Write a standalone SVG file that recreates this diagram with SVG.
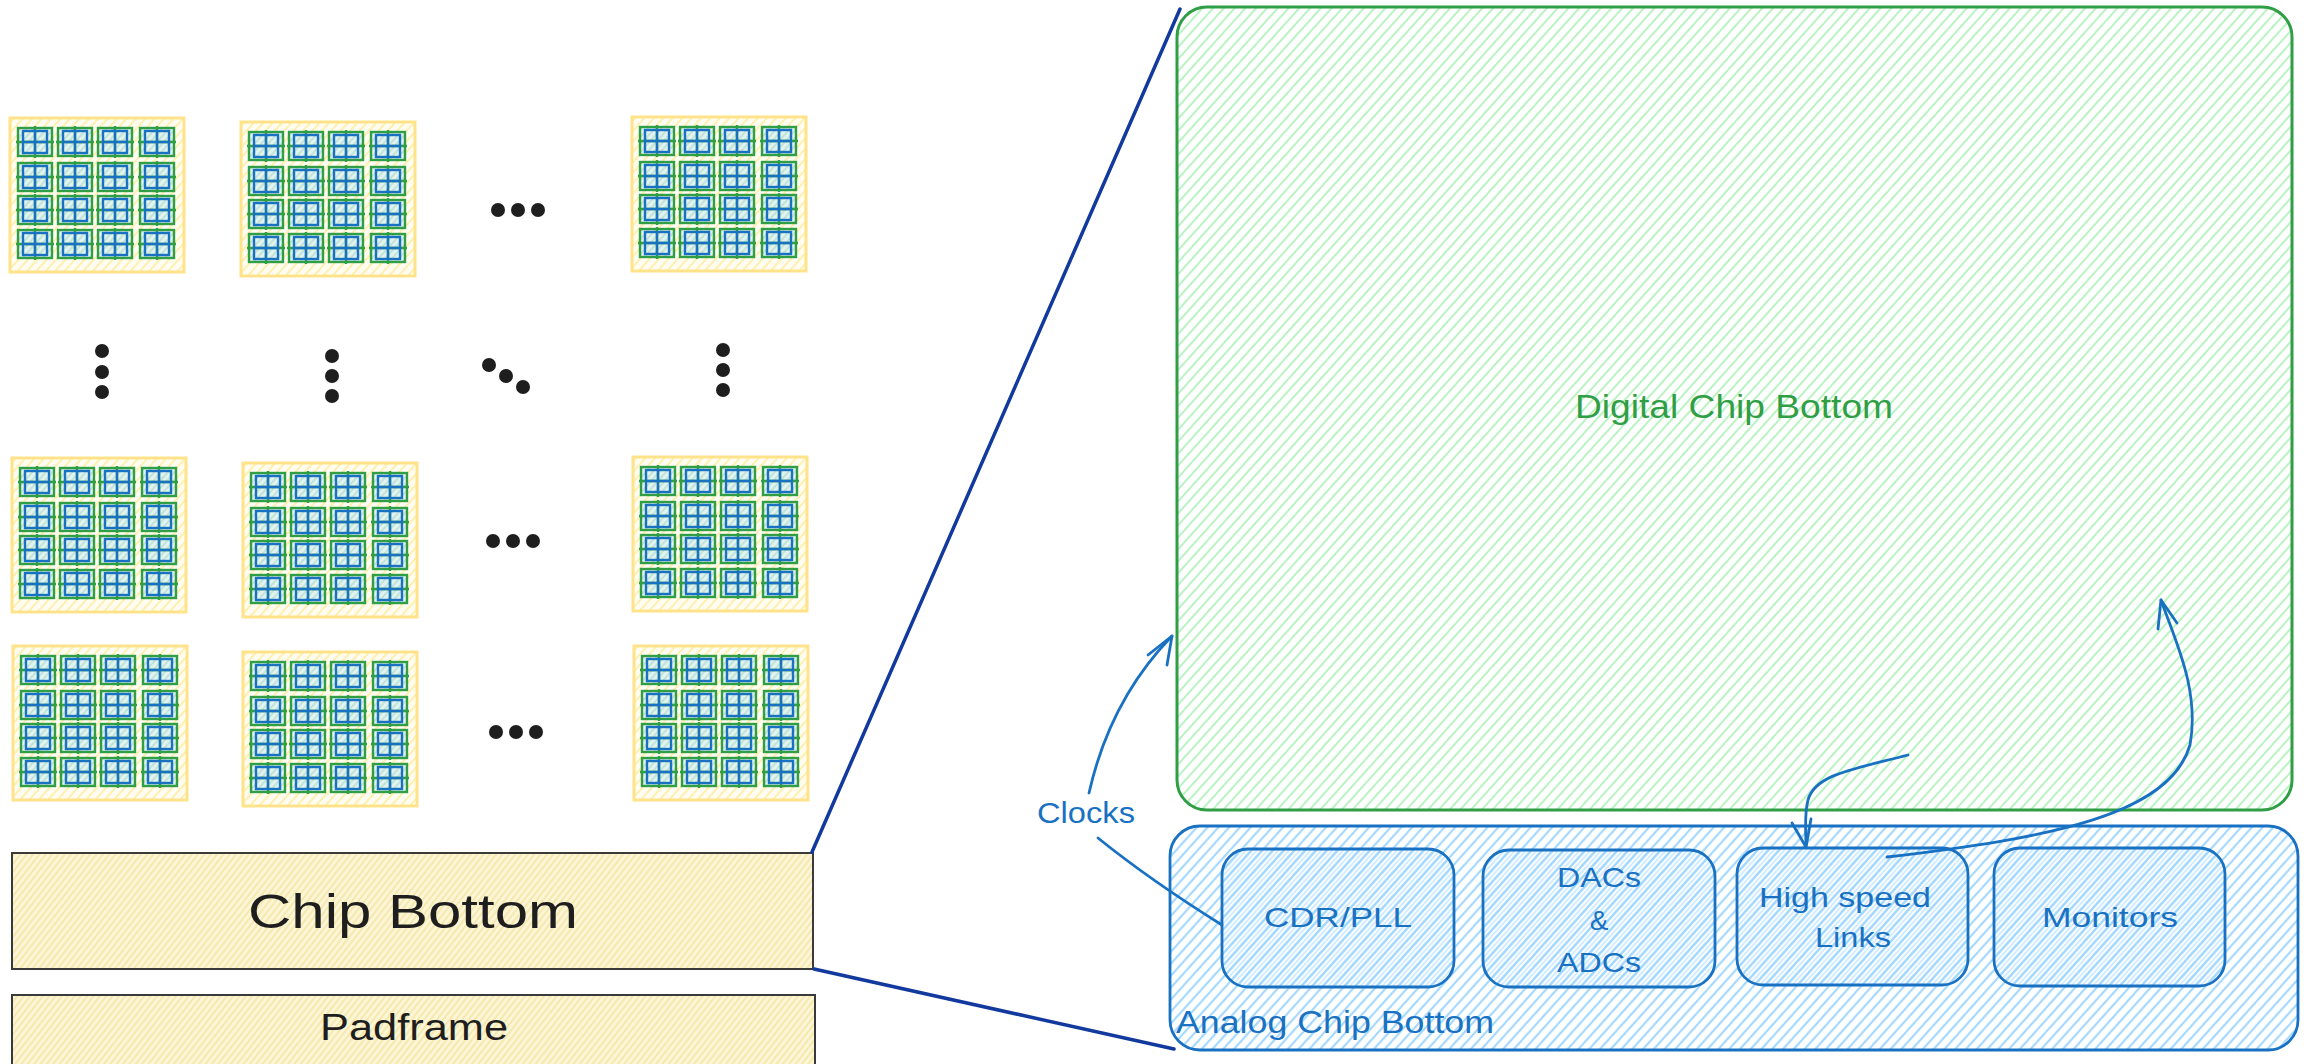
<svg xmlns="http://www.w3.org/2000/svg" width="2312" height="1064" viewBox="0 0 2312 1064">
  <style>
    .hand { font-family: "Liberation Sans", "DejaVu Sans", sans-serif; }
    .ink { fill: #1e1e1e; }
    .blueText { fill: #1971c2; }
    .greenText { fill: #2f9e44; }
    .dot { fill: #1e1e1e; }
    .link { fill: none; stroke: #12399e; stroke-width: 3.5; stroke-linecap: round; }
    .arrow { fill: none; stroke: #1971c2; stroke-width: 2.8; stroke-linecap: round; stroke-linejoin: round; }
    .sub { fill: url(#blueHatch2); stroke: #1971c2; stroke-width: 2.8; }
  </style>
  <defs>
    <!-- hachure fills -->
    <pattern id="greenHatch" patternUnits="userSpaceOnUse" width="8" height="8" patternTransform="rotate(42)">
      <line x1="3" y1="0" x2="3" y2="8" stroke="#b2f2bb" stroke-width="1.8"/>
    </pattern>
    <pattern id="blueHatch" patternUnits="userSpaceOnUse" width="8" height="8" patternTransform="rotate(42)">
      <line x1="3" y1="0" x2="3" y2="8" stroke="#a5d8ff" stroke-width="2.2"/>
    </pattern>
    <pattern id="blueHatch2" patternUnits="userSpaceOnUse" width="8" height="8" patternTransform="rotate(42)">
      <line x1="3" y1="0" x2="3" y2="8" stroke="#a5d8ff" stroke-width="2.2"/>
      <line x1="7" y1="0" x2="7" y2="8" stroke="#c6e6ff" stroke-width="1.5"/>
    </pattern>
    <pattern id="creamHatch" patternUnits="userSpaceOnUse" width="5" height="5" patternTransform="rotate(38)">
      <rect width="5" height="5" fill="#fcf5d6"/>
      <line x1="2" y1="0" x2="2" y2="5" stroke="#f3e4a0" stroke-width="1.4"/>
    </pattern>
    <pattern id="tileHatch" patternUnits="userSpaceOnUse" width="7" height="7" patternTransform="rotate(42)">
      <rect width="7" height="7" fill="#fffdf2"/>
      <line x1="3" y1="0" x2="3" y2="7" stroke="#ffeeaa" stroke-width="1.8"/>
    </pattern>
    <pattern id="cellHatch" patternUnits="userSpaceOnUse" width="5" height="5" patternTransform="rotate(42)">
      <rect width="5" height="5" fill="#e1f3ee"/>
      <line x1="2" y1="0" x2="2" y2="5" stroke="#b9e0d5" stroke-width="1.6"/>
    </pattern>

    <!-- one core: green frame, blue quad grid -->
    <g id="cell">
      <rect x="0" y="0" width="34" height="28" fill="url(#cellHatch)" stroke="#2f9e44" stroke-width="2.4"/>
      <path d="M17 -2V30M-2 14H36" stroke="#2f9e44" stroke-width="2.4"/>
      <rect x="5" y="3" width="24" height="22" fill="none" stroke="#1971c2" stroke-width="2.4"/>
      <path d="M17 3V25M5 14H29" stroke="#1971c2" stroke-width="2.4"/>
    </g>

    <!-- one 4x4 array of cores -->
    <g id="tile">
      <rect x="0" y="0" width="174" height="154" fill="url(#tileHatch)" stroke="#ffe38a" stroke-width="3"/>
      <use href="#cell" x="8" y="10"/><use href="#cell" x="48" y="10"/><use href="#cell" x="88" y="10"/><use href="#cell" x="130" y="10"/>
      <use href="#cell" x="8" y="45"/><use href="#cell" x="48" y="45"/><use href="#cell" x="88" y="45"/><use href="#cell" x="130" y="45"/>
      <use href="#cell" x="8" y="78"/><use href="#cell" x="48" y="78"/><use href="#cell" x="88" y="78"/><use href="#cell" x="130" y="78"/>
      <use href="#cell" x="8" y="112"/><use href="#cell" x="48" y="112"/><use href="#cell" x="88" y="112"/><use href="#cell" x="130" y="112"/>
    </g>
  </defs>

  <rect width="2312" height="1064" fill="#ffffff"/>

  <!-- core arrays -->
  <g id="tile-r1c1"><use href="#tile" x="10" y="118"/></g>
  <g id="tile-r1c2"><use href="#tile" x="241" y="122"/></g>
  <g id="tile-r1c3"><use href="#tile" x="632" y="117"/></g>
  <g id="tile-r2c1"><use href="#tile" x="12" y="458"/></g>
  <g id="tile-r2c2"><use href="#tile" x="243" y="463"/></g>
  <g id="tile-r2c3"><use href="#tile" x="633" y="457"/></g>
  <g id="tile-r3c1"><use href="#tile" x="13" y="646"/></g>
  <g id="tile-r3c2"><use href="#tile" x="243" y="652"/></g>
  <g id="tile-r3c3"><use href="#tile" x="634" y="646"/></g>

  <!-- ellipsis marks -->
  <g id="ellipses">
    <circle class="dot" cx="498" cy="210" r="7"/><circle class="dot" cx="518" cy="210" r="7"/><circle class="dot" cx="538" cy="210" r="7"/>
    <circle class="dot" cx="493" cy="541" r="7"/><circle class="dot" cx="513" cy="541" r="7"/><circle class="dot" cx="533" cy="541" r="7"/>
    <circle class="dot" cx="496" cy="732" r="7"/><circle class="dot" cx="516" cy="732" r="7"/><circle class="dot" cx="536" cy="732" r="7"/>
    <circle class="dot" cx="102" cy="351" r="7"/><circle class="dot" cx="102" cy="372" r="7"/><circle class="dot" cx="102" cy="392" r="7"/>
    <circle class="dot" cx="332" cy="356" r="7"/><circle class="dot" cx="332" cy="376" r="7"/><circle class="dot" cx="332" cy="396" r="7"/>
    <circle class="dot" cx="489" cy="365" r="7"/><circle class="dot" cx="506" cy="376" r="7"/><circle class="dot" cx="523" cy="387" r="7"/>
    <circle class="dot" cx="723" cy="350" r="7"/><circle class="dot" cx="723" cy="370" r="7"/><circle class="dot" cx="723" cy="390" r="7"/>
  </g>

  <!-- chip bottom and padframe -->
  <g id="chip-bottom">
    <rect x="12" y="853" width="801" height="116" fill="url(#creamHatch)" stroke="#3a3a3a" stroke-width="2"/>
    <text class="hand ink" x="413" y="928" font-size="48" text-anchor="middle" textLength="330" lengthAdjust="spacingAndGlyphs">Chip Bottom</text>
  </g>
  <g id="padframe">
    <rect x="12" y="995" width="803" height="80" fill="url(#creamHatch)" stroke="#3a3a3a" stroke-width="2"/>
    <text class="hand ink" x="414" y="1040" font-size="36" text-anchor="middle" textLength="188" lengthAdjust="spacingAndGlyphs">Padframe</text>
  </g>

  <!-- digital part of the chip bottom -->
  <g id="digital-chip-bottom">
    <rect x="1177" y="7" width="1115" height="803" rx="30" fill="url(#greenHatch)" stroke="#2f9e44" stroke-width="3"/>
    <text class="hand greenText" x="1734" y="418" font-size="34" text-anchor="middle" textLength="318" lengthAdjust="spacingAndGlyphs">Digital Chip Bottom</text>
  </g>

  <!-- analog part of the chip bottom -->
  <g id="analog-chip-bottom">
    <rect x="1170" y="826" width="1128" height="224" rx="30" fill="url(#blueHatch)" stroke="#1971c2" stroke-width="2.8"/>
    <text class="hand blueText" x="1176" y="1033" font-size="31" textLength="318" lengthAdjust="spacingAndGlyphs">Analog Chip Bottom</text>
  </g>
  <g id="cdr-pll">
    <rect class="sub" x="1222" y="849" width="232" height="138" rx="26"/>
    <text class="hand blueText" x="1338" y="927" font-size="28" text-anchor="middle" textLength="148" lengthAdjust="spacingAndGlyphs">CDR/PLL</text>
  </g>
  <g id="dacs-adcs">
    <rect class="sub" x="1483" y="850" width="232" height="137" rx="26"/>
    <text class="hand blueText" x="1599" y="887" font-size="28" text-anchor="middle" textLength="84" lengthAdjust="spacingAndGlyphs">DACs</text>
    <text class="hand blueText" x="1599" y="930" font-size="28" text-anchor="middle">&amp;</text>
    <text class="hand blueText" x="1599" y="972" font-size="28" text-anchor="middle" textLength="84" lengthAdjust="spacingAndGlyphs">ADCs</text>
  </g>
  <g id="high-speed-links">
    <rect class="sub" x="1737" y="848" width="231" height="137" rx="26"/>
    <text class="hand blueText" x="1845" y="907" font-size="28" text-anchor="middle" textLength="172" lengthAdjust="spacingAndGlyphs">High speed</text>
    <text class="hand blueText" x="1853" y="947" font-size="28" text-anchor="middle" textLength="76" lengthAdjust="spacingAndGlyphs">Links</text>
  </g>
  <g id="monitors">
    <rect class="sub" x="1994" y="848" width="231" height="138" rx="26"/>
    <text class="hand blueText" x="2110" y="927" font-size="28" text-anchor="middle" textLength="136" lengthAdjust="spacingAndGlyphs">Monitors</text>
  </g>

  <!-- label on the clock connector -->
  <g id="clocks-label">
    <text class="hand blueText" x="1086" y="823" font-size="29" text-anchor="middle" textLength="98" lengthAdjust="spacingAndGlyphs">Clocks</text>
  </g>

  <!-- connectors -->
  <g id="connectors">
    <!-- zoom lines from chip bottom to its expanded view -->
    <line class="link" x1="812" y1="852" x2="1180" y2="9"/>
    <line class="link" x1="814" y1="969" x2="1174" y2="1049"/>

    <!-- clocks: CDR/PLL to digital -->
    <path class="arrow" d="M1222 925 Q1150 880 1098 838"/>
    <path class="arrow" d="M1089 793 Q1110 700 1172 636"/>
    <path class="arrow" d="M1148 655 L1172 636 L1167 665"/>

    <!-- digital to high speed links -->
    <path class="arrow" d="M1908 755 C1850 770 1815 775 1808 800 C1804 815 1806 835 1806 847"/>
    <path class="arrow" d="M1792 823 L1806 847 L1811 819"/>

    <!-- high speed links to digital -->
    <path class="arrow" d="M1887 857 C2050 838 2170 815 2190 745 C2200 690 2175 640 2161 600"/>
    <path class="arrow" d="M2158 629 L2161 600 L2177 623"/>
  </g>
</svg>
